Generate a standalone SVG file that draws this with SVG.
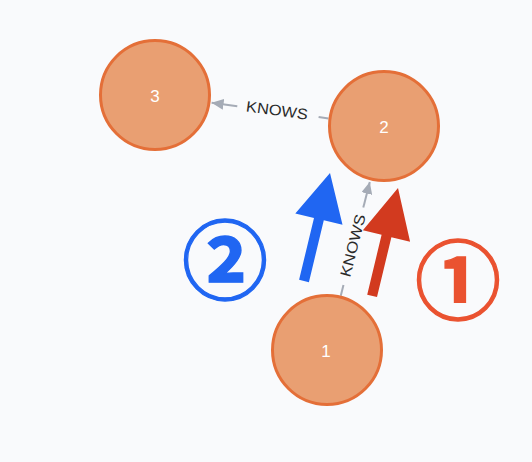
<svg xmlns="http://www.w3.org/2000/svg" width="532" height="462" viewBox="0 0 532 462">
<defs>
<style>
.node circle{fill:#E99F72;stroke:#E46F38;stroke-width:3}
.node text{fill:#FFFFFF;font-family:"Liberation Sans",Arial,sans-serif;font-size:17px;text-anchor:middle;dominant-baseline:central}
.edge line{stroke:#A5ABB6;stroke-width:2}
.elabel{fill:#2a2a2a;font-family:"Liberation Sans",Arial,sans-serif;font-size:15px;text-anchor:middle;dominant-baseline:central}
.num{font-family:"Noto Sans CJK JP","Noto Sans CJK SC",sans-serif;font-weight:bold;font-size:86px;text-anchor:middle;stroke-width:1.3}
</style>
<marker id="ah" viewBox="0 0 12 11" refX="12" refY="5.5" markerWidth="12" markerHeight="11" markerUnits="userSpaceOnUse" orient="auto">
<path d="M0,0 L12,5.5 L0,11 Z" fill="#A5ABB6"/>
</marker>
</defs>
<rect width="532" height="462" fill="#F9FAFC"/>
<g id="connectors">
<g class="edge" id="e2-3">
<line x1="328.5" y1="118.5" x2="318.6" y2="117.1"/>
<line x1="237.3" y1="106.2" x2="211.6" y2="102.7" marker-end="url(#ah)"/>
<text class="elabel" transform="translate(277,110) rotate(7.71)" textLength="62" lengthAdjust="spacingAndGlyphs">KNOWS</text>
</g>
<g class="edge" id="e1-2">
<line x1="340.8" y1="295.7" x2="343.5" y2="285.1"/>
<line x1="363.3" y1="207.5" x2="369.8" y2="181.9" marker-end="url(#ah)"/>
<text class="elabel" transform="translate(352.5,245.5) rotate(-75.72)" textLength="64" lengthAdjust="spacingAndGlyphs">KNOWS</text>
</g>
</g>
<g id="node3" class="node"><circle cx="155" cy="95" r="54.5"/><text x="155" y="96">3</text></g>
<g id="node2" class="node"><circle cx="384" cy="126" r="54.5"/><text x="384" y="127">2</text></g>
<g id="node1" class="node"><circle cx="327" cy="350" r="54.5"/><text x="326" y="351">1</text></g>
<g id="annotations">
<polygon id="arrow-blue" fill="#2066F2" points="330,173 342.5,224.8 323.8,220.3 308.9,282.2 299.1,279.8 314.0,217.9 295.3,213.4"/>
<polygon id="arrow-red" fill="#D23A1F" points="398,188 410.1,241.7 391.4,237.2 377.0,297.1 367.2,294.7 381.6,234.8 362.9,230.3"/>
<text class="num" x="225" y="292.5" fill="#2066F2" stroke="#2066F2">②</text>
<text class="num" x="458" y="312.5" fill="#EA5230" stroke="#EA5230">①</text>
</g>
</svg>
